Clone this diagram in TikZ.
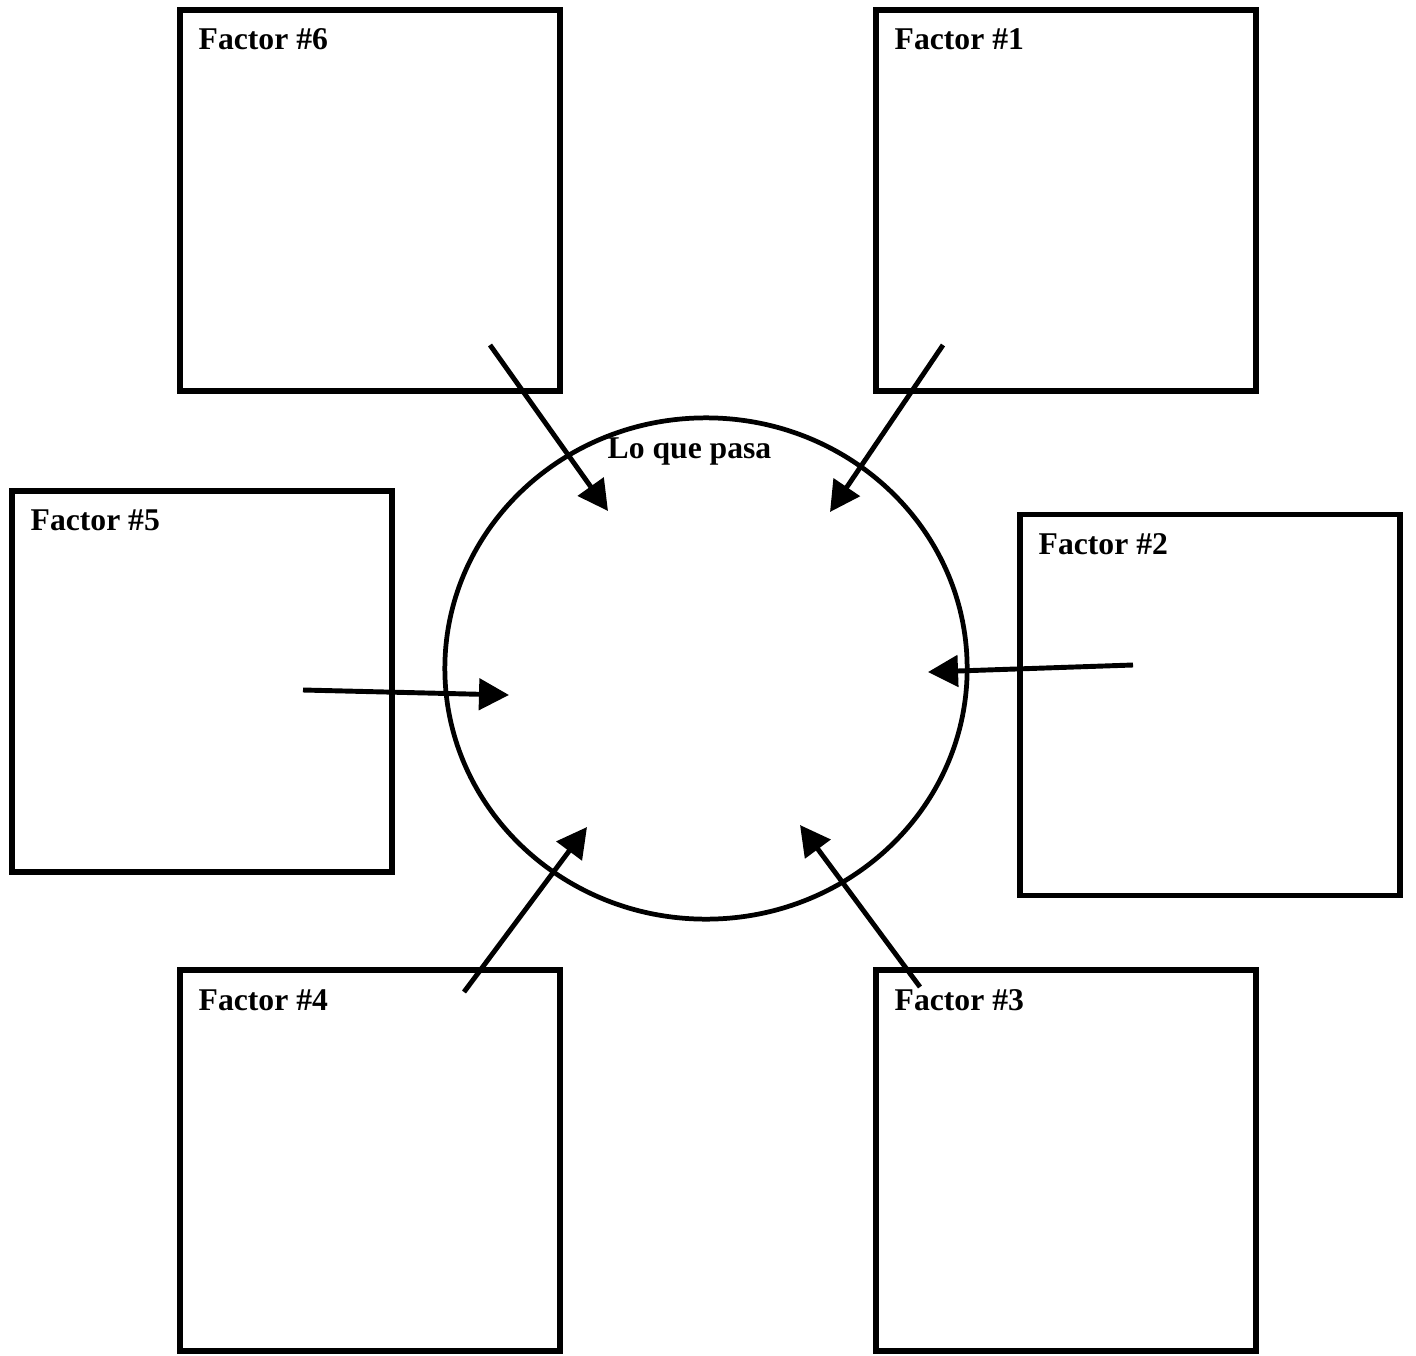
\documentclass[tikz,border=0pt]{standalone}
\usepackage{fontspec}
\setmainfont{Liberation Serif}
\usetikzlibrary{arrows.meta,shapes.geometric}

\begin{document}
\begin{tikzpicture}[x=0.01cm,y=-0.01cm,
  factorbox/.style={rectangle,draw,line width=1.6pt,inner sep=0pt,minimum width=3.8cm,minimum height=3.81cm},
  factorlabel/.style={anchor=base west,inner sep=0pt,font=\fontsize{9}{11}\selectfont\bfseries},
  push/.style={line width=1.4pt,-{Triangle[length=3mm,width=3.1mm]}}]
\useasboundingbox (0,0) rectangle (1416,1355);
% the six boxes
\node [factorbox] (f6) at (370,200.5) {};
\node [factorbox] (f1) at (1066,200.5) {};
\node [factorbox] (f5) at (202,681.5) {};
\node [factorbox] (f2) at (1210,705) {};
\node [factorbox] (f4) at (370,1160.5) {};
\node [factorbox] (f3) at (1066,1160.5) {};
\path
(198,50) node [factorlabel] (l6) {Factor \#6}
(894,50) node [factorlabel] (l1) {Factor \#1}
(30,530) node [factorlabel] (l5) {Factor \#5}
(1038,554) node [factorlabel] (l2) {Factor \#2}
(198,1010) node [factorlabel] (l4) {Factor \#4}
(894,1010) node [factorlabel] (l3) {Factor \#3}
;
% centre
\node [ellipse,draw,line width=1.35pt,inner sep=0pt,minimum width=5.22cm,minimum height=5.01cm] (pasa) at (706,668.5) {};
\node [factorlabel] (lpasa) at (607,458) {Lo que pasa};

% arrow ends
\coordinate (s6) at (490,345);  \coordinate (t6) at (608,511);
\coordinate (s1) at (943,345);  \coordinate (t1) at (830,512);
\coordinate (s5) at (303,690);  \coordinate (t5) at (509,695);
\coordinate (s2) at (1133,665); \coordinate (t2) at (928,672);
\coordinate (s4) at (464,992);  \coordinate (t4) at (587,827);
\coordinate (s3) at (920,987);  \coordinate (t3) at (800,825);
\foreach \k in {1,...,6}
  \draw [push] (s\k) -- (t\k);
\end{tikzpicture}
\end{document}
